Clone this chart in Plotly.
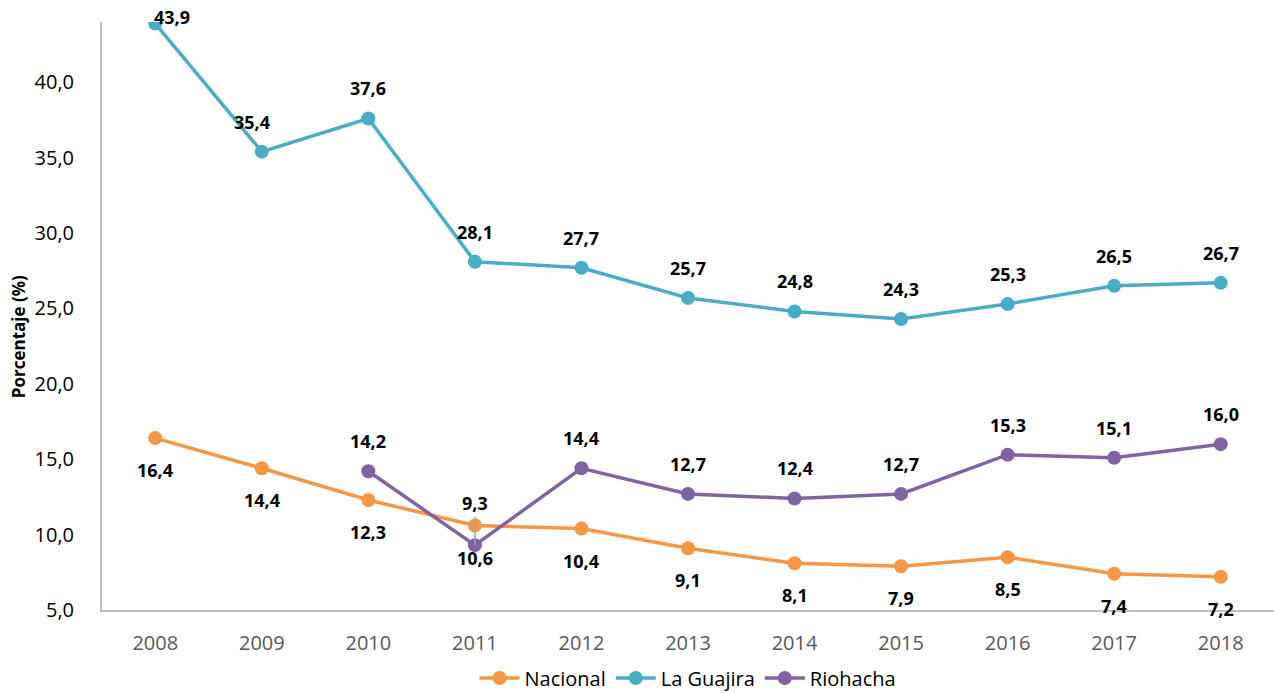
import plotly.graph_objects as go

years = ["2008", "2009", "2010", "2011", "2012", "2013", "2014", "2015", "2016", "2017", "2018"]
nacional = [16.4, 14.4, 12.3, 10.6, 10.4, 9.1, 8.1, 7.9, 8.5, 7.4, 7.2]
la_guajira = [43.9, 35.4, 37.6, 28.1, 27.7, 25.7, 24.8, 24.3, 25.3, 26.5, 26.7]
riohacha = [None, None, 14.2, 9.3, 14.4, 12.7, 12.4, 12.7, 15.3, 15.1, 16.0]

names = ["Nacional", "La Guajira", "Riohacha"]
colors = ["#F79646", "#4BACC6", "#8064A2"]
series = [nacional, la_guajira, riohacha]

FONT = "Open Sans"


def fmt(v):
    return f"{v:.1f}".replace(".", ",")


fig = go.Figure()
for name, color, vals in zip(names, colors, series):
    fig.add_trace(go.Scatter(
        x=years, y=vals, name=name, mode="lines+markers",
        line=dict(color=color, width=3.5),
        marker=dict(color=color, size=14),
        connectgaps=False,
    ))

annotations = []
# value labels: national below its points, the others above
for name, vals in zip(names, series):
    for i, (yr, v) in enumerate(zip(years, vals)):
        if v is None:
            continue
        xshift, yshift = 0, (-32 if name == "Nacional" else 30)
        arrow = False
        if name == "La Guajira" and yr == "2008":
            xshift, yshift = 17, 7
        elif name == "La Guajira" and yr == "2009":
            xshift = -10
        elif name == "Riohacha" and yr == "2011":
            arrow = True
        # category axis: annotations are placed by category index
        if arrow:
            annotations.append(dict(
                x=i, y=v, xref="x", yref="y", text=f"<b>{fmt(v)}</b>",
                showarrow=True, ax=0, ay=-42, arrowhead=0, arrowwidth=1.5,
                arrowcolor="#A6A6A6", standoff=0,
                font=dict(family=FONT, size=18, color="#000000"),
            ))
        else:
            annotations.append(dict(
                x=i, y=v, xref="x", yref="y", text=f"<b>{fmt(v)}</b>",
                showarrow=False, xshift=xshift, yshift=yshift,
                font=dict(family=FONT, size=18, color="#000000"),
            ))

annotations.append(dict(
    text="<b>Porcentaje (%)</b>", textangle=-90, xref="paper", yref="paper",
    x=0, y=0.464, xshift=-84, showarrow=False, xanchor="center", yanchor="middle",
    font=dict(family=FONT, size=17, color="#000000"),
))

fig.update_layout(
    width=1274, height=693,
    margin=dict(l=102, r=0, t=22, b=83),
    plot_bgcolor="white", paper_bgcolor="white",
    separators=",.",
    font=dict(family=FONT, size=20, color="#000000"),
    showlegend=True,
    legend=dict(
        orientation="h", x=0.5, xanchor="center", xref="paper",
        y=15 / 693, yref="container", yanchor="middle",
        font=dict(family=FONT, size=20, color="#000000"),
        itemwidth=40,
    ),
    annotations=annotations,
)

fig.update_xaxes(
    type="category", range=[-0.5, 10.5],
    showline=True, linecolor="#BFBFBF", linewidth=2,
    showgrid=False, zeroline=False, ticks="",
    tickfont=dict(family=FONT, size=20, color="#595959"),
    ticklabelstandoff=14,
)
fig.update_yaxes(
    range=[5, 44], tickvals=[5, 10, 15, 20, 25, 30, 35, 40], tickformat=".1f",
    showline=True, linecolor="#BFBFBF", linewidth=2,
    showgrid=False, zeroline=False, ticks="",
    tickfont=dict(family=FONT, size=20, color="#000000"),
    ticklabelstandoff=22,
)

fig.write_html("out.html")
